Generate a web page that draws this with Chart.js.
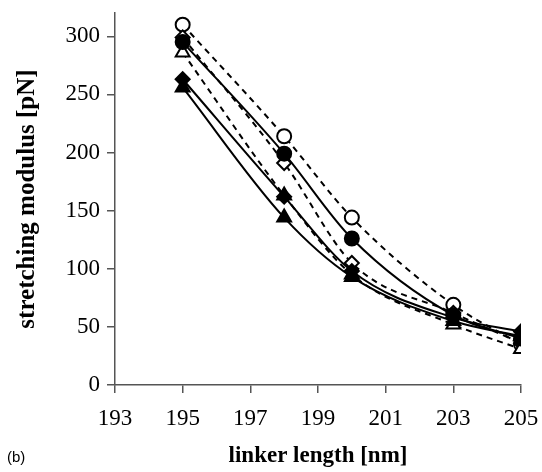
<!DOCTYPE html>
<html>
<head>
<meta charset="utf-8">
<script src="https://cdn.jsdelivr.net/npm/chart.js@4"></script>
<style>
  html, body { margin: 0; padding: 0; background: #fff; }
  #wrap { width: 542px; height: 472px; }
</style>
</head>
<body>
<div id="wrap"><canvas id="chart" width="542" height="472"></canvas></div>
<script>
// linker lengths [nm] and stretching modulus values [pN]
const linkerLength = [195, 198, 200, 203, 205];
const filledCircle = [295, 199, 126, 60, 40];
const openCircle = [310, 214, 144, 69, 35];
const filledDiamond = [263, 162, 98, 58, 46];
const openDiamond = [299, 191, 105, 62, 36];
const filledTriangle = [256, 144, 93, 55, 42];
const openTriangle = [286, 163, 95, 52, 31];
const xTicks = [193, 195, 197, 199, 201, 203, 205];
const yTicks = [0, 50, 100, 150, 200, 250, 300];

function pts(vals) {
    return linkerLength.map((x, i) => ({ x: x, y: vals[i] }));
}

function series(label, vals, shape, filled, dashed, radius) {
    return {
        label: label,
        data: pts(vals),
        borderColor: '#000',
        borderWidth: 2,
        borderDash: dashed ? [6, 5] : [],
        cubicInterpolationMode: 'monotone',
        pointStyle: shape,
        pointRadius: radius,
        pointBorderWidth: 2,
        pointBorderColor: '#000',
        pointBackgroundColor: filled ? '#000' : '#fff',
        fill: false
    };
}

const serif = "'Liberation Serif', 'Times New Roman', serif";

// "(b)" panel label
const panelLabel = {
    id: 'panelLabel',
    afterDraw(chart) {
        const ctx = chart.ctx;
        ctx.save();
        ctx.fillStyle = '#000';
        ctx.font = "15px 'Liberation Sans', Arial, sans-serif";
        ctx.textBaseline = 'middle';
        ctx.fillText('(b)', 7, 458);
        ctx.restore();
    }
};

new Chart(document.getElementById('chart'), {
    type: 'line',
    data: {
        datasets: [
            series('filled triangle', filledTriangle, 'triangle', true, false, 8),
            series('filled diamond', filledDiamond, 'rectRot', true, false, 7),
            series('filled circle', filledCircle, 'circle', true, false, 7),
            series('open triangle', openTriangle, 'triangle', false, true, 8),
            series('open diamond', openDiamond, 'rectRot', false, true, 7),
            series('open circle', openCircle, 'circle', false, true, 7)
        ]
    },
    options: {
        responsive: false,
        animation: false,
        layout: { padding: { left: 0, right: 21, top: 13, bottom: 0 } },
        plugins: {
            legend: { display: false },
            tooltip: { enabled: false }
        },
        scales: {
            x: {
                type: 'linear',
                min: 193,
                max: 205,
                afterBuildTicks: (s) => { s.ticks = xTicks.map(v => ({ value: v })); },
                afterFit: (s) => { s.height = 87; s.paddingLeft = 0; s.paddingRight = 0; },
                border: { color: '#555', width: 1.5 },
                grid: { drawOnChartArea: false, tickLength: 8, color: '#555', lineWidth: 1.5 },
                ticks: { color: '#000', font: { family: serif, size: 23 }, padding: 12, maxRotation: 0 },
                title: {
                    display: true,
                    text: 'linker length [nm]',
                    color: '#000',
                    font: { family: serif, size: 23, weight: 'bold' },
                    padding: { top: 0, bottom: 2 }
                }
            },
            y: {
                min: 0,
                max: 320,
                afterBuildTicks: (s) => { s.ticks = yTicks.map(v => ({ value: v })); },
                afterFit: (s) => { s.width = 115; s.paddingTop = 0; s.paddingBottom = 0; },
                border: { color: '#555', width: 1.5 },
                grid: { drawOnChartArea: false, tickLength: 8, color: '#555', lineWidth: 1.5 },
                ticks: { color: '#000', font: { family: serif, size: 23 }, padding: 7 },
                title: {
                    display: true,
                    text: 'stretching modulus [pN]',
                    color: '#000',
                    font: { family: serif, size: 25, weight: 'bold' },
                    padding: { top: 13, bottom: 0 }
                }
            }
        }
    },
    plugins: [panelLabel]
});
</script>
</body>
</html>
